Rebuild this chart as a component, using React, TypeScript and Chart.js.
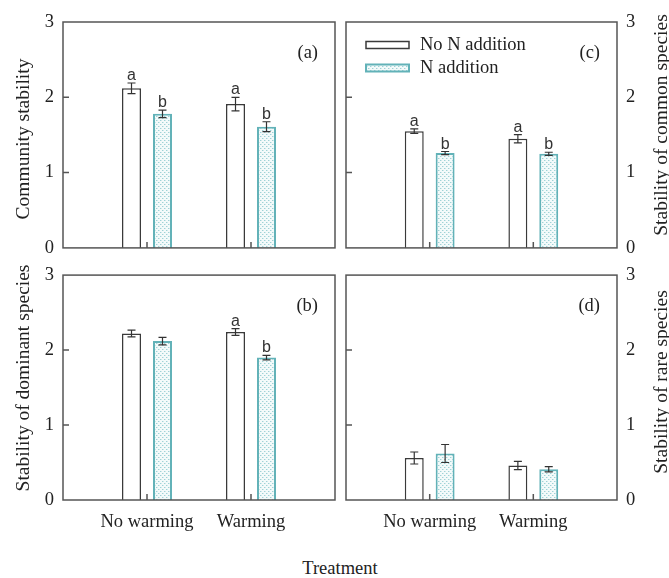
import React, { useEffect, useRef } from 'react';
import { Chart, registerables } from 'chart.js';

Chart.register(...registerables);

// ---------- data ----------
const categories = ['No warming', 'Warming'];
const seriesLabels = ['No N addition', 'N addition'];
const yTickValues = [0, 1, 2, 3];

const communityNoN = [2.12, 1.91];
const communityN = [1.78, 1.61];
const communityNoNErr = [0.07, 0.09];
const communityNErr = [0.05, 0.065];
const communityNoNLetters = ['a', 'a'];
const communityNLetters = ['b', 'b'];

const dominantNoN = [2.22, 2.24];
const dominantN = [2.12, 1.9];
const dominantNoNErr = [0.045, 0.045];
const dominantNErr = [0.05, 0.03];
const dominantNoNLetters = ['', 'a'];
const dominantNLetters = ['', 'b'];

const commonNoN = [1.55, 1.45];
const commonN = [1.26, 1.25];
const commonNoNErr = [0.03, 0.055];
const commonNErr = [0.02, 0.02];
const commonNoNLetters = ['a', 'a'];
const commonNLetters = ['b', 'b'];

const rareNoN = [0.56, 0.46];
const rareN = [0.62, 0.41];
const rareNoNErr = [0.08, 0.055];
const rareNErr = [0.12, 0.035];
const rareNoNLetters = ['', ''];
const rareNLetters = ['', ''];

// ---------- styles ----------
const SERIF = '"Liberation Serif", "Times New Roman", serif';
const SANS = '"Liberation Sans", Arial, sans-serif';
const TEXT = '#222';
const FRAME = '#555';
const NON_BORDER = '#3a3a3a';
const N_BORDER = '#62b2b8';

function makePattern(): CanvasPattern | string {
  const c = document.createElement('canvas');
  c.width = 4;
  c.height = 4;
  const g = c.getContext('2d');
  if (!g) return '#e0f2f3';
  g.fillStyle = '#f3fafa';
  g.fillRect(0, 0, 4, 4);
  g.fillStyle = '#9fd2d6';
  g.fillRect(0, 0, 1, 1);
  g.fillRect(2, 2, 1, 1);
  g.fillStyle = '#cfe9eb';
  g.fillRect(1, 0, 1, 1);
  g.fillRect(3, 2, 1, 1);
  const p = g.createPattern(c, 'repeat');
  return p || '#e0f2f3';
}

type PanelCfg = {
  key: string;
  tag: string;
  title: string;
  noN: number[];
  n: number[];
  noNErr: number[];
  nErr: number[];
  noNLetters: string[];
  nLetters: string[];
  right: boolean;
  showX: boolean;
  legend: boolean;
  left: number;
  top: number;
  w: number;
  h: number;
  padTop: number;
  padLeft: number;
  padRight: number;
  yw: number;
  xh: number;
  titleX: number;
  titleY: number;
};

const panels: PanelCfg[] = [
  {
    key: 'a', tag: '(a)', title: 'Community stability',
    noN: communityNoN, n: communityN, noNErr: communityNoNErr, nErr: communityNErr,
    noNLetters: communityNoNLetters, nLetters: communityNLetters,
    right: false, showX: false, legend: false,
    left: 0, top: 0, w: 345, h: 268, padTop: 22, padLeft: 0, padRight: 10, yw: 63, xh: 15,
    titleX: 24, titleY: 139,
  },
  {
    key: 'b', tag: '(b)', title: 'Stability of dominant species',
    noN: dominantNoN, n: dominantN, noNErr: dominantNoNErr, nErr: dominantNErr,
    noNLetters: dominantNoNLetters, nLetters: dominantNLetters,
    right: false, showX: true, legend: false,
    left: 0, top: 255, w: 345, h: 280, padTop: 13, padLeft: 0, padRight: 10, yw: 63, xh: 35,
    titleX: 24, titleY: 378,
  },
  {
    key: 'c', tag: '(c)', title: 'Stability of common species',
    noN: commonNoN, n: commonN, noNErr: commonNoNErr, nErr: commonNErr,
    noNLetters: commonNoNLetters, nLetters: commonNLetters,
    right: true, showX: false, legend: true,
    left: 340, top: 0, w: 329, h: 268, padTop: 22, padLeft: 6, padRight: 0, yw: 52, xh: 15,
    titleX: 662, titleY: 125,
  },
  {
    key: 'd', tag: '(d)', title: 'Stability of rare species',
    noN: rareNoN, n: rareN, noNErr: rareNoNErr, nErr: rareNErr,
    noNLetters: rareNoNLetters, nLetters: rareNLetters,
    right: true, showX: true, legend: false,
    left: 340, top: 255, w: 329, h: 280, padTop: 13, padLeft: 6, padRight: 0, yw: 52, xh: 35,
    titleX: 662, titleY: 382,
  },
];

function makeDecorPlugin(cfg: PanelCfg) {
  return {
    id: 'decor_' + cfg.key,
    afterDatasetsDraw(chart: any) {
      const { ctx, chartArea } = chart;
      const xs = chart.scales.x;
      const ys = chart.scales.y;
      ctx.save();

      // error bars + letters
      chart.data.datasets.forEach((ds: any, di: number) => {
        const meta = chart.getDatasetMeta(di);
        meta.data.forEach((bar: any, i: number) => {
          const v = ds.data[i].y;
          const e = ds.errs[i];
          const x = bar.x;
          const yTop = ys.getPixelForValue(v + e);
          const yBot = ys.getPixelForValue(v - e);
          ctx.strokeStyle = '#333';
          ctx.lineWidth = 1.2;
          ctx.beginPath();
          ctx.moveTo(x, yTop);
          ctx.lineTo(x, yBot);
          ctx.moveTo(x - 4, yTop);
          ctx.lineTo(x + 4, yTop);
          ctx.moveTo(x - 4, yBot);
          ctx.lineTo(x + 4, yBot);
          ctx.stroke();
          const letter = ds.letters[i];
          if (letter) {
            ctx.fillStyle = '#333';
            ctx.font = '16px ' + SANS;
            ctx.textAlign = 'center';
            ctx.textBaseline = 'alphabetic';
            ctx.fillText(letter, x, yTop - 3);
          }
        });
      });

      // frame
      ctx.strokeStyle = FRAME;
      ctx.lineWidth = 1.5;
      ctx.strokeRect(chartArea.left, chartArea.top, chartArea.right - chartArea.left, chartArea.bottom - chartArea.top);

      // inward ticks
      ctx.beginPath();
      [1, 2].forEach((v) => {
        const y = ys.getPixelForValue(v);
        ctx.moveTo(chartArea.left, y);
        ctx.lineTo(chartArea.left + 6, y);
      });
      categories.forEach((_, i) => {
        const x = xs.getPixelForValue(i + 1);
        ctx.moveTo(x, chartArea.bottom);
        ctx.lineTo(x, chartArea.bottom - 6);
      });
      ctx.stroke();

      // panel tag
      ctx.fillStyle = TEXT;
      ctx.font = '18.5px ' + SERIF;
      ctx.textAlign = 'right';
      ctx.textBaseline = 'middle';
      ctx.fillText(cfg.tag, chartArea.right - 17, chartArea.top + 31);

      // legend
      if (cfg.legend) {
        chart.data.datasets.forEach((ds: any, di: number) => {
          const bx = chartArea.left + 20;
          const cy = chartArea.top + 23 + di * 23;
          ctx.fillStyle = ds.backgroundColor;
          ctx.fillRect(bx, cy - 3.5, 43, 7);
          ctx.strokeStyle = ds.borderColor;
          ctx.lineWidth = di === 0 ? 1.5 : 2;
          ctx.strokeRect(bx, cy - 3.5, 43, 7);
          ctx.fillStyle = TEXT;
          ctx.font = '18.5px ' + SERIF;
          ctx.textAlign = 'left';
          ctx.textBaseline = 'middle';
          ctx.fillText(ds.label, bx + 54, cy);
        });
      }

      // axis title
      ctx.save();
      ctx.translate(cfg.titleX - cfg.left, cfg.titleY - cfg.top);
      ctx.rotate(-Math.PI / 2);
      ctx.fillStyle = TEXT;
      ctx.font = '19.5px ' + SERIF;
      ctx.textAlign = 'center';
      ctx.textBaseline = 'middle';
      ctx.fillText(cfg.title, 0, 0);
      ctx.restore();

      ctx.restore();
    },
  };
}

function Panel({ cfg }: { cfg: PanelCfg }) {
  const ref = useRef<HTMLCanvasElement>(null);
  useEffect(() => {
    if (!ref.current) return;
    const pattern = makePattern();
    const chart = new Chart(ref.current, {
      type: 'bar',
      data: {
        datasets: [
          {
            label: seriesLabels[0],
            data: cfg.noN.map((v, i) => ({ x: i + 1, y: v })),
            backgroundColor: '#ffffff',
            borderColor: NON_BORDER,
            borderWidth: 1.5,
            categoryPercentage: 0.596,
            barPercentage: 0.613,
            errs: cfg.noNErr,
            letters: cfg.noNLetters,
          } as any,
          {
            label: seriesLabels[1],
            data: cfg.n.map((v, i) => ({ x: i + 1, y: v })),
            backgroundColor: pattern,
            borderColor: N_BORDER,
            borderWidth: 2,
            categoryPercentage: 0.596,
            barPercentage: 0.613,
            errs: cfg.nErr,
            letters: cfg.nLetters,
          } as any,
        ],
      },
      options: {
        animation: false,
        responsive: false,
        maintainAspectRatio: false,
        layout: { padding: { top: cfg.padTop, left: cfg.padLeft, right: cfg.padRight, bottom: 0 } },
        plugins: { legend: { display: false }, tooltip: { enabled: false } },
        scales: {
          x: {
            type: 'linear',
            offset: false,
            min: 0.1923,
            max: 2.8077,
            grid: { display: false, drawTicks: false },
            border: { display: false },
            afterBuildTicks: (s: any) => {
              s.ticks = categories.map((_, i) => ({ value: i + 1 }));
            },
            afterFit: (s: any) => {
              s.height = cfg.xh;
            },
            ticks: {
              display: cfg.showX,
              autoSkip: false,
              maxRotation: 0,
              padding: 11,
              color: TEXT,
              font: { family: SERIF, size: 18.5 },
              callback: (v: any) => categories[Math.round(Number(v)) - 1] ?? '',
            },
          },
          y: {
            position: cfg.right ? 'right' : 'left',
            min: 0,
            max: 3,
            grid: { display: false, drawTicks: false },
            border: { display: false },
            afterBuildTicks: (s: any) => {
              s.ticks = yTickValues.map((v) => ({ value: v }));
            },
            afterFit: (s: any) => {
              s.width = cfg.yw;
            },
            ticks: {
              padding: 9,
              color: TEXT,
              font: { family: SERIF, size: 18.5 },
              callback: (v: any) => String(v),
            },
          },
        } as any,
      },
      plugins: [makeDecorPlugin(cfg)],
    });
    return () => chart.destroy();
  }, [cfg]);
  return (
    <canvas
      ref={ref}
      width={cfg.w}
      height={cfg.h}
      style={{ position: 'absolute', left: cfg.left, top: cfg.top, width: cfg.w, height: cfg.h }}
    />
  );
}

export default function App() {
  return (
    <div style={{ position: 'absolute', left: 0, top: 0, width: 669, height: 578, background: '#fff', overflow: 'hidden' }}>
      {panels.map((p) => (
        <Panel key={p.key} cfg={p} />
      ))}
      <div
        style={{
          position: 'absolute',
          left: 0,
          top: 557,
          width: 680,
          textAlign: 'center',
          fontFamily: SERIF,
          fontSize: 18.5,
          lineHeight: '22px',
          color: TEXT,
        }}
      >
        Treatment
      </div>
    </div>
  );
}
